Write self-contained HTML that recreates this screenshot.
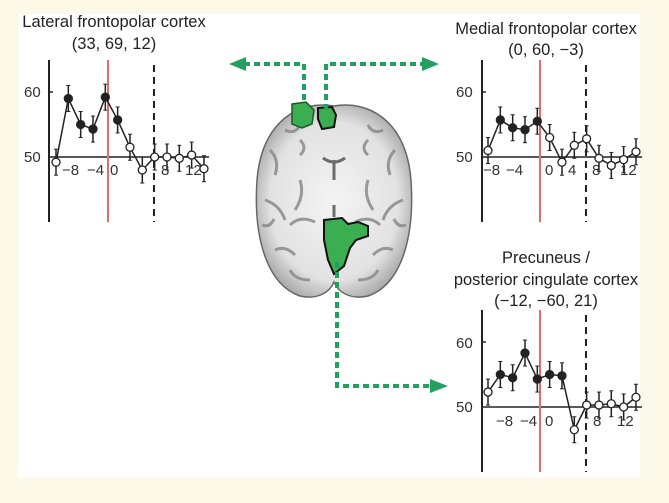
<!DOCTYPE html>
<html><head><style>
html,body{margin:0;padding:0;background:#fdf9e9;}
svg{display:block;font-family:"Liberation Sans",sans-serif;}
</style></head><body>
<svg id="s" width="669" height="503" viewBox="0 0 669 503">
<defs>
<radialGradient id="bg" cx="50%" cy="50%" r="55%">
<stop offset="0" stop-color="#f4f4f4"/><stop offset="0.75" stop-color="#e2e2e2"/><stop offset="1" stop-color="#a8a8a8"/>
</radialGradient>
</defs>
<rect x="0" y="0" width="669" height="503" fill="#fdf9e9"/>
<rect x="18" y="14" width="622" height="464" fill="#ffffff"/>
<!-- brain -->
<path d="M334,106 C300,100 262,120 257,180 C253,240 268,285 300,296 C318,300 330,292 334,282 C338,292 350,300 368,296 C400,285 415,240 411,180 C406,120 368,100 334,106 Z" fill="url(#bg)" stroke="#666" stroke-width="1.5"/>
<g stroke="#8a8a8a" stroke-width="3" fill="none" opacity="0.85">
<path d="M270,150 q10,10 5,25 M265,200 q15,5 20,20 M275,250 q10,-5 20,5 M290,270 q5,10 20,10 M395,150 q-10,10 -5,25 M403,200 q-15,5 -20,20 M393,250 q-10,-5 -20,5 M378,270 q-5,10 -20,10 M285,130 q10,5 15,-5 M383,130 q-10,5 -15,-5 M300,180 q5,15 -5,30 M368,180 q-5,15 5,30 M262,225 q8,3 12,-6 M406,225 q-8,3 -12,-6 M300,140 q8,8 0,15 M368,140 q-8,8 0,15"/>
<path d="M323,158 q11,8 22,0 M334,160 l0,20 M334,205 l0,12" stroke="#555" stroke-width="3"/>
<path d="M290,225 q10,-10 25,-3 M380,225 q-10,-10 -25,-3"/>
</g>
<!-- green blobs -->
<path d="M292,104 l14,-2 l8,8 l-2,14 l-10,4 l-10,-4 z" fill="#3cae52" stroke="#1b5a28" stroke-width="1.5"/>
<path d="M318,108 l14,-1 l4,8 l-2,12 l-12,2 l-4,-10 z" fill="#3cae52" stroke="#111" stroke-width="2"/>
<path d="M324,220 l18,-2 l6,6 l10,-2 l10,4 l0,10 l-12,4 l-6,8 l-6,18 l-10,8 l-6,-14 l-4,-20 z" fill="#3cae52" stroke="#111" stroke-width="2"/>
<!-- connectors -->
<g stroke="#22a060" stroke-width="4" stroke-dasharray="6,4" fill="none">
<path d="M304,100 L304,64 L242,64"/>
<path d="M326,110 L326,64 L425,64"/>
<path d="M337,262 L337,386 L432,386"/>
</g>
<g fill="#22a060">
<polygon points="229,64 246,57 246,71"/>
<polygon points="439,64 422,57 422,71"/>
<polygon points="448,386 430,379 430,393"/>
</g>
<!-- titles -->
<g font-size="16.5" fill="#222" text-anchor="middle">
<text x="114" y="27">Lateral frontopolar cortex</text>
<text x="114" y="49">(33, 69, 12)</text>
<text x="546" y="34">Medial frontopolar cortex</text>
<text x="546" y="55">(0, 60, −3)</text>
<text x="546" y="263">Precuneus /</text>
<text x="546" y="285">posterior cingulate cortex</text>
<text x="546" y="306">(−12, −60, 21)</text>
</g>
<g id="charts"></g>
<g font-size="15" fill="#333">
<text x="24" y="97">60</text><text x="24" y="162">50</text>
<text x="62" y="175">−8</text><text x="87" y="175">−4</text><text x="110" y="175">0</text><text x="161" y="175">8</text><text x="185" y="175">12</text>
<text x="456" y="97">60</text><text x="456" y="162">50</text>
<text x="483" y="175">−8</text><text x="506" y="175">−4</text><text x="545" y="175">0</text><text x="568" y="175">4</text><text x="592" y="175">8</text><text x="620" y="175">12</text>
<text x="456" y="348">60</text><text x="456" y="412">50</text>
<text x="496" y="426">−8</text><text x="520" y="426">−4</text><text x="545" y="426">0</text><text x="593" y="426">8</text><text x="617" y="426">12</text>
</g>
</svg>
<script>
var NS="http://www.w3.org/2000/svg",g=document.getElementById("charts");
function el(t,a){var e=document.createElementNS(NS,t);for(var k in a)e.setAttribute(k,a[k]);g.appendChild(e);return e;}
function chart(ax,top,bot,y50,x0,red,dash,vals,filled){
 el("line",{x1:ax,y1:top,x2:ax,y2:bot,stroke:"#222","stroke-width":2});
 el("line",{x1:ax,y1:y50,x2:ax+160,y2:y50,stroke:"#222","stroke-width":1.5});
 el("line",{x1:ax,y1:y50-65,x2:ax+4,y2:y50-65,stroke:"#222","stroke-width":1.5});
 el("line",{x1:red,y1:top,x2:red,y2:bot,stroke:"#d9706e","stroke-width":2});
 el("line",{x1:dash,y1:top+5,x2:dash,y2:bot,stroke:"#222","stroke-width":2,"stroke-dasharray":"7,5"});
 var pts=vals.map(function(v,i){return [x0+i*12.33,y50-(v-50)*6.5];});
 el("polyline",{points:pts.map(function(p){return p.join(",")}).join(" "),fill:"none",stroke:"#222","stroke-width":1.5});
 pts.forEach(function(p,i){
  el("line",{x1:p[0],y1:p[1]-13,x2:p[0],y2:p[1]+13,stroke:"#222","stroke-width":1.5});
  el("line",{x1:p[0]-2,y1:p[1]-13,x2:p[0]+2,y2:p[1]-13,stroke:"#222","stroke-width":1});
  el("line",{x1:p[0]-2,y1:p[1]+13,x2:p[0]+2,y2:p[1]+13,stroke:"#222","stroke-width":1});
  el("circle",{cx:p[0],cy:p[1],r:4,fill:filled.indexOf(i)>=0?"#222":"#fff",stroke:"#222","stroke-width":1.3});
 });
}
chart(49,60,222,157,56,108,154,[49.2,59,55,54.3,59.2,55.7,51.5,48,50,50,49.8,50.3,48.2],[1,2,3,4,5]);
chart(482,60,222,157,488,540,586,[51,55.7,54.5,54.2,55.5,53,49.2,51.8,52.8,49.8,48.7,49.6,50.8],[1,2,3,4]);
chart(482,310,472,407,488,540,586,[52.3,55,54.5,58.3,54.3,55,54.8,46.5,50.3,50.3,50.5,50,51.5],[1,2,3,4,5,6]);
</script>
</body></html>
